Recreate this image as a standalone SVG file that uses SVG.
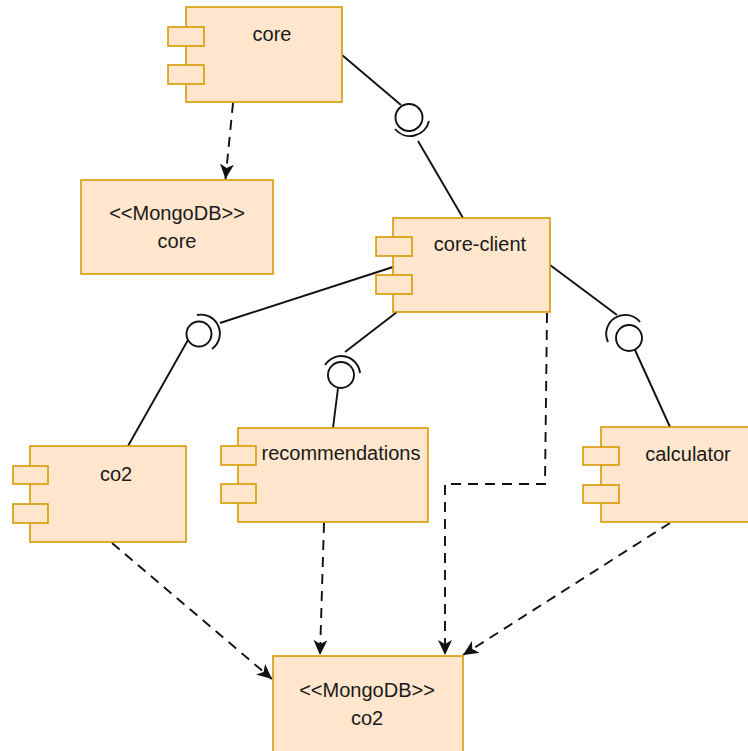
<svg xmlns="http://www.w3.org/2000/svg" width="748" height="751" viewBox="0 0 748 751">
<style>
.box{fill:#ffe6cc;stroke:#d79b00;stroke-width:1.6}
.t{font-family:"Liberation Sans",Arial,sans-serif;font-size:20px;fill:#1a1a1a;text-anchor:middle}
.ln{fill:none;stroke:#111111;stroke-width:1.9}
.dash{fill:none;stroke:#111111;stroke-width:1.9;stroke-dasharray:10 7}
</style>
<defs>
<marker id="arr" viewBox="0 0 15 14" refX="15" refY="7" markerWidth="15" markerHeight="14" markerUnits="userSpaceOnUse" orient="auto">
<path d="M0,0 L15,7 L0,14 L4,7 z" fill="#111111"/>
</marker>
</defs>
<rect width="748" height="751" fill="#ffffff"/>
<g id="connectors">
<path class="dash" d="M233,103 L225.5,179" marker-end="url(#arr)"/>
<path class="dash" d="M547,313 L545,484 L445,484 L445,655" marker-end="url(#arr)"/>
<path class="dash" d="M112,543 L272,679" marker-end="url(#arr)"/>
<path class="dash" d="M324,523 L320,655" marker-end="url(#arr)"/>
<path class="dash" d="M670,523 L463,655" marker-end="url(#arr)"/>
<path class="ln" d="M342,55 L401,105"/>
<circle class="ln" cx="409" cy="117.5" r="13.5"/>
<path class="ln" d="M395,129 A19.5,19.5 0 0 0 429,121"/>
<path class="ln" d="M418,141 L463,218"/>
<path class="ln" d="M393,267 L220,323"/>
<circle class="ln" cx="199" cy="334" r="12.5"/>
<path class="ln" d="M197,315 A19,19 0 0 1 212,349"/>
<path class="ln" d="M188,340 L128,446"/>
<path class="ln" d="M397,312 L345,352"/>
<circle class="ln" cx="341" cy="375" r="13"/>
<path class="ln" d="M325,365 A19,19 0 0 1 360,373"/>
<path class="ln" d="M338,388 L333,428"/>
<path class="ln" d="M550,265 L617,315"/>
<circle class="ln" cx="629" cy="338" r="13"/>
<path class="ln" d="M608,342 A19,19 0 0 1 640,322"/>
<path class="ln" d="M635,350 L670,427"/>
</g>
<g id="core">
<rect class="box" x="186" y="7" width="156" height="95"/>
<rect class="box" x="168" y="27" width="36" height="19"/>
<rect class="box" x="168" y="65" width="36" height="19"/>
<text class="t" x="272" y="41">core</text>
</g>
<g id="mongodb-core">
<rect class="box" x="81" y="180" width="192" height="94"/>
<text class="t" x="177" y="220">&lt;&lt;MongoDB&gt;&gt;</text>
<text class="t" x="177" y="248">core</text>
</g>
<g id="core-client">
<rect class="box" x="393" y="218" width="157" height="94"/>
<rect class="box" x="376" y="237" width="36" height="19"/>
<rect class="box" x="376" y="275" width="36" height="19"/>
<text class="t" x="480" y="251">core-client</text>
</g>
<g id="co2">
<rect class="box" x="30" y="446" width="156" height="96"/>
<rect class="box" x="13" y="466" width="35" height="18"/>
<rect class="box" x="13" y="504" width="35" height="19"/>
<text class="t" x="116" y="481">co2</text>
</g>
<g id="recommendations">
<rect class="box" x="238" y="428" width="190" height="94"/>
<rect class="box" x="221" y="446" width="35" height="19"/>
<rect class="box" x="221" y="484" width="35" height="19"/>
<text class="t" x="341" y="460">recommendations</text>
</g>
<g id="calculator">
<rect class="box" x="601" y="427" width="150" height="95"/>
<rect class="box" x="583" y="447" width="36" height="18"/>
<rect class="box" x="583" y="485" width="36" height="18"/>
<text class="t" x="688" y="461">calculator</text>
</g>
<g id="mongodb-co2">
<rect class="box" x="273" y="656" width="190" height="100"/>
<text class="t" x="367" y="697">&lt;&lt;MongoDB&gt;&gt;</text>
<text class="t" x="367" y="725">co2</text>
</g>
</svg>
